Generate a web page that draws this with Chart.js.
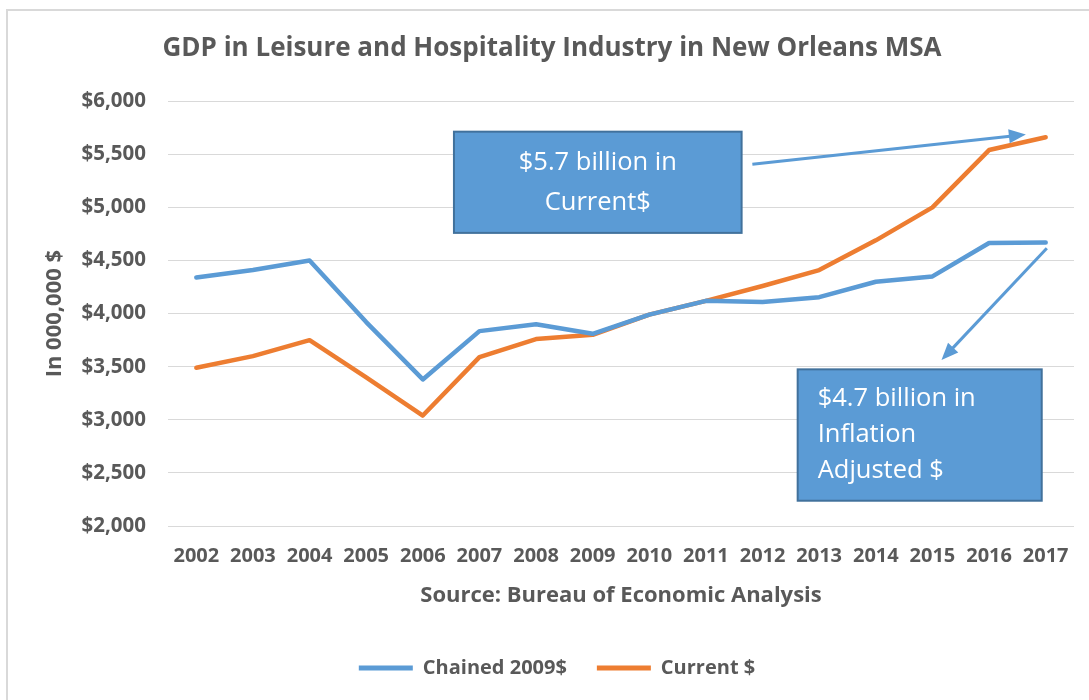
<!DOCTYPE html>
<html>
<head>
<meta charset="utf-8">
<title>GDP in Leisure and Hospitality Industry in New Orleans MSA</title>
<script src="https://cdn.jsdelivr.net/npm/chart.js@4/dist/chart.umd.min.js"></script>
<style>
    html, body { margin: 0; padding: 0; background: #fff; }
    #wrap { position: absolute; left: 0; top: 0; width: 1089px; height: 700px; }
</style>
</head>
<body>
<div id="wrap"><canvas id="gdp-chart" width="1089" height="700"></canvas></div>
<script>
// GDP, leisure & hospitality, New Orleans MSA (millions of dollars)
const years = ['2002', '2003', '2004', '2005', '2006', '2007', '2008', '2009',
               '2010', '2011', '2012', '2013', '2014', '2015', '2016', '2017'];
const chained2009 = [4340, 4410, 4500, 3920, 3380, 3835, 3900, 3810,
                     3990, 4120, 4110, 4155, 4300, 4350, 4665, 4670];
const currentDollars = [3490, 3600, 3750, 3400, 3040, 3590, 3760, 3800,
                        3990, 4120, 4260, 4410, 4690, 5000, 5540, 5660];
const yTicks = [2000, 2500, 3000, 3500, 4000, 4500, 5000, 5500, 6000];

const BLUE = '#5B9BD5';
const ORANGE = '#ED7D31';
const TEXT = '#595959';
const GRID = '#D9D9D9';
const FONT = "'Open Sans', sans-serif";

// Callout boxes and arrows, placed in data units (category index, value)
const callouts = [
    { lines: ['$5.7 billion in', 'Current$'], align: 'center', lineGap: 40,
      x0: 4.55, x1: 9.63, y0: 5713, y1: 4760 },
    { lines: ['$4.7 billion in', 'Inflation', 'Adjusted $'], align: 'left', lineGap: 36,
      x0: 10.62, x1: 14.93, y0: 3475, y1: 2238 }
];
const arrows = [
    { from: [9.82, 5407], to: [14.65, 5687] },
    { from: [15.02, 4616], to: [13.16, 3563] }
];

const frameAndCallouts = {
    id: 'frameAndCallouts',
    beforeDraw(chart) {
        const ctx = chart.ctx;
        ctx.save();
        ctx.fillStyle = '#fff';
        ctx.fillRect(0, 0, chart.width, chart.height);
        // outer chart frame (runs off the right and bottom edges)
        ctx.strokeStyle = GRID;
        ctx.lineWidth = 2;
        ctx.strokeRect(7, 10, chart.width + 20, chart.height + 20);
        ctx.restore();
    },
    afterLayout(chart) {
        // centre title and legend on the whole canvas rather than the padded box
        chart.legend.left += 40;
        chart.titleBlock.left += 30;
    },
    afterDatasetsDraw(chart) {
        const ctx = chart.ctx;
        const xs = chart.scales.x;
        const ys = chart.scales.y;
        const px = (i) => xs.getPixelForValue(i);
        const py = (v) => ys.getPixelForValue(v);
        ctx.save();

        arrows.forEach(a => {
            const x1 = px(a.from[0]), y1 = py(a.from[1]);
            const x2 = px(a.to[0]), y2 = py(a.to[1]);
            const ang = Math.atan2(y2 - y1, x2 - x1);
            const headLen = 17, headHalf = 7;
            ctx.strokeStyle = BLUE;
            ctx.fillStyle = BLUE;
            ctx.lineWidth = 3;
            ctx.beginPath();
            ctx.moveTo(x1, y1);
            ctx.lineTo(x2 - Math.cos(ang) * headLen * 0.8, y2 - Math.sin(ang) * headLen * 0.8);
            ctx.stroke();
            ctx.beginPath();
            ctx.moveTo(x2, y2);
            ctx.lineTo(x2 - Math.cos(ang) * headLen - Math.sin(ang) * headHalf,
                       y2 - Math.sin(ang) * headLen + Math.cos(ang) * headHalf);
            ctx.lineTo(x2 - Math.cos(ang) * headLen + Math.sin(ang) * headHalf,
                       y2 - Math.sin(ang) * headLen - Math.cos(ang) * headHalf);
            ctx.closePath();
            ctx.fill();
        });

        callouts.forEach(c => {
            const left = px(c.x0), right = px(c.x1);
            const top = py(c.y0), bottom = py(c.y1);
            ctx.fillStyle = BLUE;
            ctx.fillRect(left, top, right - left, bottom - top);
            ctx.strokeStyle = '#41719C';
            ctx.lineWidth = 2;
            ctx.strokeRect(left, top, right - left, bottom - top);

            ctx.fillStyle = '#fff';
            ctx.font = "25.5px " + FONT;
            ctx.textBaseline = 'middle';
            const mid = (top + bottom) / 2;
            const first = mid - (c.lines.length - 1) * c.lineGap / 2;
            c.lines.forEach((line, i) => {
                if (c.align === 'center') {
                    ctx.textAlign = 'center';
                    ctx.fillText(line, (left + right) / 2, first + i * c.lineGap);
                } else {
                    ctx.textAlign = 'left';
                    ctx.fillText(line, left + 20, first + i * c.lineGap);
                }
            });
        });
        ctx.restore();
    }
};

new Chart(document.getElementById('gdp-chart'), {
    type: 'line',
    data: {
        labels: years,
        datasets: [
            {
                label: 'Chained 2009$',
                data: chained2009,
                borderColor: BLUE,
                backgroundColor: BLUE,
                borderWidth: 4.5,
                pointRadius: 0,
                borderCapStyle: 'round',
                borderJoinStyle: 'round',
                tension: 0
            },
            {
                label: 'Current $',
                data: currentDollars,
                borderColor: ORANGE,
                backgroundColor: ORANGE,
                borderWidth: 4.5,
                pointRadius: 0,
                borderCapStyle: 'round',
                borderJoinStyle: 'round',
                tension: 0
            }
        ]
    },
    options: {
        responsive: false,
        animation: false,
        devicePixelRatio: 1,
        layout: {
            padding: { left: 0, right: 15, top: 0, bottom: 12 }
        },
        plugins: {
            title: {
                display: true,
                text: 'GDP in Leisure and Hospitality Industry in New Orleans MSA',
                color: TEXT,
                font: { family: FONT, size: 26, weight: 'bold' },
                padding: { top: 33, bottom: 37 }
            },
            legend: {
                position: 'bottom',
                labels: {
                    color: TEXT,
                    font: { family: FONT, size: 20, weight: 'bold' },
                    boxWidth: 54,
                    boxHeight: 5,
                    padding: 30,
                    generateLabels(chart) {
                        return chart.data.datasets.map((ds, i) => ({
                            text: ds.label,
                            fillStyle: ds.borderColor,
                            strokeStyle: ds.borderColor,
                            lineWidth: 0,
                            fontColor: TEXT,
                            datasetIndex: i,
                            hidden: false
                        }));
                    }
                }
            },
            tooltip: { enabled: false }
        },
        scales: {
            x: {
                offset: true,
                grid: { display: false, drawTicks: false },
                border: { display: false },
                ticks: {
                    color: TEXT,
                    font: { family: FONT, size: 20, weight: 'bold' },
                    padding: 18,
                    maxRotation: 0,
                    autoSkip: false
                },
                title: {
                    display: true,
                    text: 'Source: Bureau of Economic Analysis',
                    color: TEXT,
                    font: { family: FONT, size: 22, weight: 'bold' },
                    padding: { top: 0, bottom: 19 }
                },
                afterFit(scale) { scale.height = 102; }
            },
            y: {
                min: 2000,
                max: 6000,
                afterBuildTicks(scale) {
                    scale.ticks = yTicks.map(v => ({ value: v }));
                },
                grid: { color: GRID, lineWidth: 1, drawTicks: false },
                border: { display: false },
                ticks: {
                    color: TEXT,
                    font: { family: FONT, size: 20.5, weight: 'bold' },
                    padding: 22,
                    callback: (v) => '$' + v.toLocaleString('en-US')
                },
                title: {
                    display: true,
                    text: 'In 000,000 $',
                    color: TEXT,
                    font: { family: FONT, size: 22, weight: 'bold' },
                    padding: { top: 42, bottom: 0 }
                },
                afterFit(scale) { scale.width = 168; }
            }
        }
    },
    plugins: [frameAndCallouts]
});
</script>
</body>
</html>
